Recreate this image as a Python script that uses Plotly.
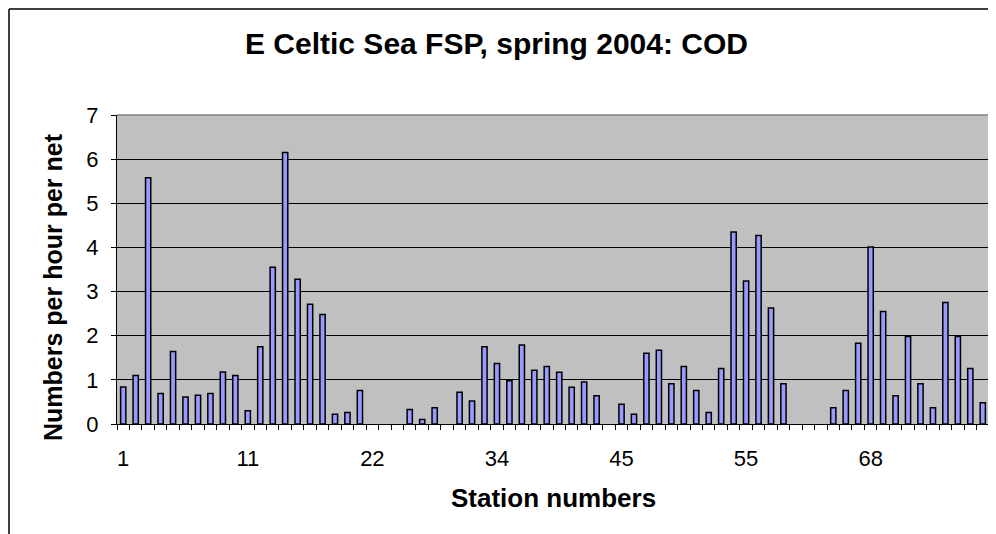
import plotly.graph_objects as go

stations = [
    "1", "2", "3", "4", "5", "6", "7", "8", "9", "10",
    "11", "12", "13", "14", "15", "16", "17", "18", "19", "20",
    "22", "23", "24", "25", "26", "27", "28", "29", "30", "31",
    "34", "35", "36", "37", "38", "39", "40", "41", "42", "43",
    "45", "46", "47", "48", "49", "50", "51", "52", "53", "54",
    "55", "56", "57", "58", "59", "60", "61", "62", "63", "64",
    "68", "69", "70", "71", "72", "73", "74", "75", "76", "77",
]
cod = [
    0.84, 1.10, 5.58, 0.69, 1.64, 0.61, 0.65, 0.69, 1.18, 1.10,
    0.30, 1.75, 3.55, 6.15, 3.28, 2.71, 2.48, 0.22, 0.26, 0.76,
    None, None, None, 0.33, 0.10, 0.37, None, 0.72, 0.52, 1.75,
    1.37, 0.98, 1.79, 1.22, 1.30, 1.17, 0.83, 0.95, 0.64, None,
    0.45, 0.22, 1.60, 1.67, 0.91, 1.30, 0.76, 0.26, 1.26, 4.35,
    3.24, 4.27, 2.63, 0.91, None, None, None, 0.37, 0.76, 1.83,
    4.01, 2.55, 0.64, 1.98, 0.91, 0.37, 2.75, 1.98, 1.26, 0.48,
]
shown_labels = ["1", "11", "22", "34", "45", "55", "68"]
y_ticks = [0, 1, 2, 3, 4, 5, 6, 7]

title_text = "E Celtic Sea FSP, spring 2004: COD"
x_title = "Station numbers"
y_title = "Numbers per hour per net"

FONT = "Liberation Sans, Arial, sans-serif"

W, H = 996, 534
OFF = 8  # page body margin
# plot area in window pixels
PL, PR, PT, PB = 117, 989, 115, 424
ML, MT = PL - OFF, PT - OFF
MR = W - (PR - OFF)
MB = H - (PB - OFF)
PW, PH = PR - PL, PB - PT


def px(xw):
    return (xw - PL) / PW


def py(yw):
    return (PB - yw) / PH


fig = go.Figure()
fig.add_trace(go.Bar(
    x=stations, y=cod,
    marker=dict(color="#9999FF", line=dict(color="black", width=1.5)),
))

ticktext = [s if s in shown_labels else "" for s in stations]

fig.update_layout(
    width=W, height=H,
    margin=dict(l=ML, r=MR, t=MT, b=MB),
    paper_bgcolor="white",
    plot_bgcolor="#C0C0C0",
    bargap=0.58,
    showlegend=False,
    font=dict(family=FONT, color="black"),
    xaxis=dict(
        type="category",
        tickmode="array", tickvals=stations, ticktext=ticktext,
        tickson="boundaries",
        ticks="outside", ticklen=5, tickcolor="black", tickwidth=1,
        ticklabelstandoff=15,
        showline=True, linecolor="black", linewidth=1,
        showgrid=False, zeroline=False,
        tickangle=0,
        tickfont=dict(size=22, family=FONT),
    ),
    yaxis=dict(
        range=[0, 7], tickvals=y_ticks,
        ticks="outside", ticklen=5, tickcolor="black", tickwidth=1,
        ticklabelstandoff=8,
        showline=True, linecolor="black", linewidth=1,
        showgrid=True, gridcolor="black", gridwidth=1,
        zeroline=False,
        tickfont=dict(size=22, family=FONT),
    ),
    annotations=[
        dict(text="<b>" + title_text + "</b>", xref="paper", yref="paper",
             x=px(496), y=py(44), xanchor="center", yanchor="middle",
             showarrow=False, font=dict(size=30, family=FONT)),
        dict(text="<b>" + x_title + "</b>", xref="paper", yref="paper",
             x=px(553), y=py(498), xanchor="center", yanchor="middle",
             showarrow=False, font=dict(size=26, family=FONT)),
        dict(text="<b>" + y_title + "</b>", xref="paper", yref="paper",
             x=px(53), y=py(287), textangle=-90,
             xanchor="center", yanchor="middle",
             showarrow=False, font=dict(size=25, family=FONT)),
    ],
    shapes=[
        dict(type="line", xref="paper", yref="paper", x0=0, x1=1, y0=1, y1=1,
             line=dict(color="#808080", width=1.5)),
        dict(type="line", xref="paper", yref="paper", x0=1, x1=1, y0=0, y1=1,
             line=dict(color="#808080", width=1.5)),
        dict(type="line", xref="paper", yref="paper",
             x0=px(OFF + 1), x1=px(OFF + 1), y0=py(H + 20), y1=py(OFF + 1),
             line=dict(color="black", width=1.5)),
        dict(type="line", xref="paper", yref="paper",
             x0=px(OFF + 1), x1=px(W + 20), y0=py(OFF + 1), y1=py(OFF + 1),
             line=dict(color="black", width=1.5)),
    ],
)

fig.write_html("out.html")
